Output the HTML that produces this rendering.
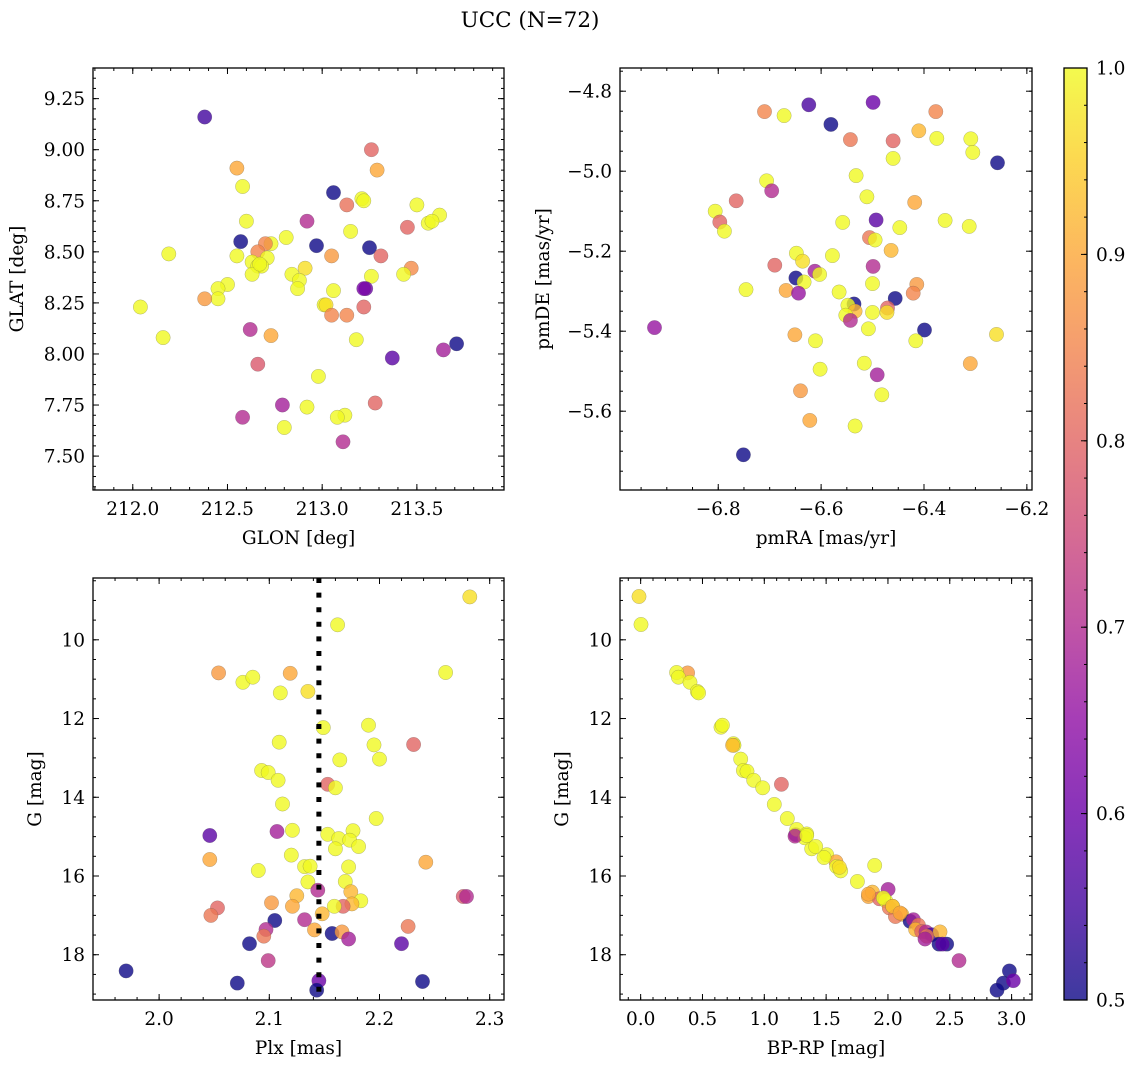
<!DOCTYPE html>
<html><head><meta charset="utf-8">
<style>
html,body{margin:0;padding:0;background:#fff;}
svg{display:block;font-family:"DejaVu Serif","Liberation Serif",serif;}
</style></head>
<body>
<svg id="fig" width="1136" height="1067" viewBox="0 0 1136 1067" xmlns="http://www.w3.org/2000/svg">
<defs>
<linearGradient id="plasma" x1="0" y1="1" x2="0" y2="0">
<stop offset="0" stop-color="#0d0887"/><stop offset="0.1" stop-color="#41049d"/><stop offset="0.2" stop-color="#6a00a8"/><stop offset="0.3" stop-color="#8f0da4"/><stop offset="0.4" stop-color="#b12a90"/><stop offset="0.5" stop-color="#cc4778"/><stop offset="0.6" stop-color="#e16462"/><stop offset="0.7" stop-color="#f2844b"/><stop offset="0.8" stop-color="#fca636"/><stop offset="0.9" stop-color="#fcce25"/><stop offset="1" stop-color="#f0f921"/>
</linearGradient>
</defs>
<text x="530" y="27" font-size="21.5" text-anchor="middle">UCC (N=72)</text>
</svg>
<script>
// ---- Panel 1: GLON / GLAT ----
const glon = [212.38,213.26,213.29,212.55,212.58,213.06,213.13,213.21,213.22,213.50,213.62,213.56,213.58,213.45,212.92,212.60,213.15,212.57,212.97,213.25,213.31,213.05,212.81,212.73,212.70,212.66,212.71,212.55,212.63,212.66,212.68,212.63,212.91,212.84,212.88,212.87,213.26,213.23,213.22,213.47,213.43,213.06,213.01,213.02,213.05,213.13,213.22,212.50,212.45,212.45,212.38,212.19,212.04,212.16,212.62,212.73,213.18,213.71,213.64,213.37,212.66,212.98,213.28,212.79,212.92,213.12,213.08,212.58,212.80,213.11,212.67];
const glat = [9.16,9.00,8.90,8.91,8.82,8.79,8.73,8.76,8.75,8.73,8.68,8.64,8.65,8.62,8.65,8.65,8.60,8.55,8.53,8.52,8.48,8.48,8.57,8.54,8.54,8.50,8.47,8.48,8.45,8.43,8.43,8.39,8.42,8.39,8.36,8.32,8.38,8.32,8.32,8.42,8.39,8.31,8.24,8.24,8.19,8.19,8.23,8.34,8.32,8.27,8.27,8.49,8.23,8.08,8.12,8.09,8.07,8.05,8.02,7.98,7.95,7.89,7.76,7.75,7.74,7.70,7.69,7.69,7.64,7.57,8.44];
const probA = [0.55,0.8,0.9,0.9,1,0.5,0.82,1,1,1,1,1,1,0.8,0.7,1,1,0.5,0.5,0.5,0.8,0.88,1,1,0.85,0.85,1,1,1,1,1,1,0.97,1,1,1,1,0.6,0.62,0.86,1,1,1,0.97,0.85,0.85,0.8,1,1,1,0.88,1,1,1,0.7,0.9,1,0.5,0.68,0.58,0.78,1,0.8,0.68,1,1,1,0.7,1,0.7,1];
// ---- Panel 2: pmRA / pmDE ----
const pmra = [-6.924,-6.751,-6.710,-6.672,-6.624,-6.581,-6.499,-6.377,-6.543,-6.460,-6.410,-6.375,-6.309,-6.305,-6.257,-6.460,-6.532,-6.706,-6.696,-6.511,-6.765,-6.418,-6.806,-6.797,-6.788,-6.493,-6.558,-6.447,-6.359,-6.312,-6.506,-6.495,-6.464,-6.578,-6.648,-6.636,-6.690,-6.499,-6.612,-6.603,-6.649,-6.633,-6.500,-6.746,-6.668,-6.644,-6.565,-6.414,-6.421,-6.456,-6.536,-6.548,-6.534,-6.552,-6.543,-6.471,-6.472,-6.500,-6.508,-6.399,-6.416,-6.259,-6.651,-6.611,-6.516,-6.310,-6.602,-6.491,-6.640,-6.482,-6.622,-6.534];
const pmde = [-5.391,-5.709,-4.851,-4.861,-4.834,-4.883,-4.828,-4.851,-4.921,-4.924,-4.899,-4.918,-4.919,-4.953,-4.979,-4.968,-5.011,-5.024,-5.049,-5.064,-5.074,-5.078,-5.100,-5.127,-5.150,-5.122,-5.128,-5.141,-5.123,-5.138,-5.166,-5.172,-5.198,-5.211,-5.205,-5.225,-5.235,-5.238,-5.250,-5.258,-5.267,-5.277,-5.281,-5.296,-5.298,-5.305,-5.302,-5.283,-5.305,-5.318,-5.332,-5.335,-5.350,-5.360,-5.373,-5.342,-5.353,-5.353,-5.394,-5.397,-5.424,-5.408,-5.409,-5.424,-5.480,-5.481,-5.495,-5.509,-5.549,-5.559,-5.623,-5.637];
const probB = [0.66,0.5,0.85,1,0.56,0.5,0.6,0.85,0.83,0.8,0.92,1,1,1,0.5,1,1,1,0.7,1,0.8,0.9,1,0.8,1,0.58,1,1,1,1,0.83,1,0.92,1,1,0.97,0.8,0.7,0.68,1,0.5,1,1,1,0.9,0.66,1,0.88,0.85,0.5,0.5,1,0.92,1,0.7,0.8,0.97,1,1,0.5,1,0.97,0.9,1,1,0.9,1,0.68,0.88,1,0.9,1];
// ---- Panel 3: Plx / G ----
const plx = [2.282,2.162,2.054,2.076,2.085,2.119,2.110,2.135,2.260,2.149,2.190,2.109,2.195,2.231,2.200,2.164,2.093,2.099,2.108,2.153,2.160,2.112,2.197,2.046,2.107,2.121,2.153,2.163,2.176,2.173,2.181,2.160,2.120,2.046,2.242,2.132,2.137,2.172,2.090,2.135,2.169,2.144,2.174,2.125,2.276,2.279,2.183,2.102,2.175,2.167,2.159,2.121,2.053,2.047,2.148,2.105,2.132,2.226,2.097,2.095,2.141,2.157,2.166,2.172,2.082,2.220,2.099,1.970,2.071,2.145,2.239,2.143];
const gmagC = [8.91,9.62,10.84,11.08,10.95,10.85,11.35,11.31,10.83,12.23,12.17,12.60,12.67,12.66,13.03,13.05,13.32,13.37,13.57,13.67,13.76,14.17,14.54,14.97,14.87,14.84,14.94,15.05,14.85,15.09,15.25,15.31,15.47,15.58,15.65,15.76,15.75,15.77,15.86,16.15,16.14,16.36,16.40,16.50,16.52,16.52,16.63,16.68,16.71,16.77,16.77,16.77,16.81,17.00,16.96,17.13,17.11,17.28,17.36,17.53,17.37,17.46,17.42,17.60,17.72,17.72,18.15,18.41,18.72,18.66,18.68,18.90];
const probC = [0.97,1,0.88,1,1,0.9,1,0.97,1,1,1,1,1,0.8,1,1,1,1,1,0.8,1,1,1,0.58,0.68,1,1,1,1,1,1,1,1,0.9,0.9,1,1,1,1,1,1,0.7,0.92,0.92,0.78,0.7,1,0.88,0.92,0.8,1,0.9,0.8,0.83,0.92,0.5,0.7,0.83,0.7,0.83,0.9,0.5,0.88,0.68,0.5,0.58,0.72,0.5,0.5,0.6,0.5,0.5];
const plxMedian = [2.145];
// ---- Panel 4: BP-RP / G ----
const bprp = [-0.013,0.003,0.380,0.291,0.305,0.399,0.458,0.469,0.650,0.661,0.750,0.755,0.809,0.831,0.860,0.914,0.987,1.138,1.081,1.186,1.254,1.262,1.343,1.327,1.383,1.416,1.505,1.580,1.585,1.618,1.893,1.753,1.842,1.874,2.001,1.931,1.982,2.011,2.038,2.111,2.060,2.179,2.206,2.246,2.224,2.273,2.308,2.354,2.421,2.313,2.300,2.413,2.475,2.440,2.575,2.982,2.934,3.014,2.882,0.744,1.483,1.607,1.842,1.963,2.038,2.098,1.248,1.343];
const gmagD = [8.90,9.61,10.84,10.83,10.95,11.08,11.31,11.35,12.22,12.17,12.64,12.68,13.03,13.32,13.34,13.57,13.76,13.67,14.18,14.54,14.95,14.82,14.93,15.03,15.31,15.25,15.46,15.64,15.76,15.87,15.73,16.14,16.52,16.41,16.34,16.58,16.63,16.81,16.77,16.97,17.03,17.15,17.11,17.25,17.36,17.41,17.42,17.49,17.42,17.53,17.60,17.73,17.73,17.73,18.15,18.41,18.72,18.66,18.90,12.68,15.53,15.78,16.46,16.56,16.77,16.94,14.99,14.97];
const probD = [0.97,1,0.88,1,1,1,1,1,1,1,1,1,1,1,1,1,1,0.8,1,1,0.58,1,1,1,1,1,1,0.9,1,1,1,1,0.9,0.92,0.68,0.8,1,0.83,1,0.92,0.83,0.5,0.68,0.83,0.92,0.8,0.7,0.55,0.92,0.83,0.68,0.5,0.5,0.58,0.7,0.5,0.5,0.6,0.5,0.92,1,0.97,0.9,1,0.92,0.9,0.7,1];
// ---- tick labels ----
const ticks1x = [212.0,212.5,213.0,213.5];
const ticks1y = [7.50,7.75,8.00,8.25,8.50,8.75,9.00,9.25];
const ticks2x = [-6.8,-6.6,-6.4,-6.2];
const ticks2y = [-5.6,-5.4,-5.2,-5.0,-4.8];
const ticks3x = [2.0,2.1,2.2,2.3];
const ticksG = [10,12,14,16,18];
const ticks4x = [0.0,0.5,1.0,1.5,2.0,2.5,3.0];
const ticksCb = [0.5,0.6,0.7,0.8,0.9,1.0];

const NS="http://www.w3.org/2000/svg";
const fig=document.getElementById('fig');
const stops=[[13,8,135],[65,4,157],[106,0,168],[143,13,164],[177,42,144],[204,71,120],[225,100,98],[242,132,75],[252,166,54],[252,206,37],[240,249,33]];
function plasma(p){let t=Math.max(0,Math.min(1,(p-0.5)/0.5))*10;let i=Math.min(9,Math.floor(t));let f=t-i;const a=stops[i],b=stops[i+1];return 'rgb('+a.map((v,k)=>Math.round(v+(b[k]-v)*f)).join(',')+')';}
function mk(tag,attrs,parent){const e=document.createElementNS(NS,tag);for(const k in attrs)e.setAttribute(k,attrs[k]);(parent||fig).appendChild(e);return e;}
function fmt(v,d){return v.toFixed(d).replace('-','\u2212');}
const FS=18.5;

function panel(name,box,xd,yd,xinv,yinv,xt,yt,xminor,yminor,xdec,ydec,xlab,ylab,ylabx,xs,ys,ps){
  const [L,T,R,B]=box;
  const sx=v=>L+(v-xd[0])/(xd[1]-xd[0])*(R-L);
  const sy=v=>yinv? T+(v-yd[0])/(yd[1]-yd[0])*(B-T) : B-(v-yd[0])/(yd[1]-yd[0])*(B-T);
  const g=mk('g',{});
  
  
  const pts=mk('g',{},g);
  
  
  for(let i=0;i<xs.length;i++){
    const c=mk('circle',{cx:sx(xs[i]).toFixed(1),cy:sy(ys[i]).toFixed(1),r:7.2,fill:plasma(ps[i]),'fill-opacity':0.8,stroke:'#555','stroke-width':0.35,'stroke-opacity':0.6},pts);
    
    
  }
  const tk=mk('g',{stroke:'#000','stroke-width':1},g);
  
  
  let s=Math.ceil(xd[0]/xminor-1e-6);
  for(let v=s*xminor;v<=xd[1]+1e-9;v+=xminor){const x=sx(v);mk('line',{x1:x,x2:x,y1:B,y2:B-3},tk);mk('line',{x1:x,x2:x,y1:T,y2:T+3},tk);}
  s=Math.ceil(yd[0]/yminor-1e-6);
  for(let v=s*yminor;v<=yd[1]+1e-9;v+=yminor){const y=sy(v);mk('line',{x1:L,x2:L+3,y1:y,y2:y},tk);mk('line',{x1:R,x2:R-3,y1:y,y2:y},tk);}
  xt.forEach(v=>{const x=sx(v);mk('line',{x1:x,x2:x,y1:B,y2:B-6},tk);mk('line',{x1:x,x2:x,y1:T,y2:T+6},tk);
    const t=mk('text',{x:x,y:B+25,'font-size':FS,'text-anchor':'middle',stroke:'none'},g);t.textContent=fmt(v,xdec);
    
    });
  yt.forEach(v=>{const y=sy(v);mk('line',{x1:L,x2:L+6,y1:y,y2:y},tk);mk('line',{x1:R,x2:R-6,y1:y,y2:y},tk);
    const t=mk('text',{x:L-8,y:y+6.5,'font-size':FS,'text-anchor':'end'},g);t.textContent=fmt(v,ydec);
    
    });
  const fr=mk('rect',{x:L,y:T,width:R-L,height:B-T,fill:'none',stroke:'#000','stroke-width':1.3},g);
  
  
  const xl=mk('text',{x:(L+R)/2,y:B+54,'font-size':FS,'text-anchor':'middle'},g);xl.textContent=xlab;
  
  
  const yl=mk('text',{x:ylabx,y:(T+B)/2,'font-size':FS,'text-anchor':'middle',transform:'rotate(-90 '+ylabx+' '+(T+B)/2+')'},g);yl.textContent=ylab;
  
  
  return {sx,sy,g};
}

panel('glon-glat',[93,68,504,490],[211.79,213.96],[7.334,9.40],false,false,ticks1x,ticks1y,0.1,0.05,1,2,'GLON [deg]','GLAT [deg]',23,glon,glat,probA);
panel('pm',[620,68,1032,490],[-6.991,-6.190],[-5.797,-4.742],false,false,ticks2x,ticks2y,0.05,0.05,1,1,'pmRA [mas/yr]','pmDE [mas/yr]',549,pmra,pmde,probB);
const p3=panel('plx-g',[93,578,504,1000],[1.940,2.313],[8.43,19.15],false,true,ticks3x,ticksG,0.02,0.5,1,0,'Plx [mas]','G [mag]',41,plx,gmagC,probC);
panel('cmd',[620,578,1032,1000],[-0.167,3.165],[8.43,19.15],false,true,ticks4x,ticksG,0.1,0.5,1,0,'BP-RP [mag]','G [mag]',568,bprp,gmagD,probD);

plxMedian.forEach(v=>{
  const x=p3.sx(v);
  const ln=mk('line',{x1:x,x2:x,y1:578,y2:1000,stroke:'#000','stroke-width':5,'stroke-dasharray':'5 9.6'});
  
  
});

const cb=mk('g',{});


const cbT=68,cbB=1000,cbL=1064,cbR=1087;
const cbr=mk('rect',{x:cbL,y:cbT,width:cbR-cbL,height:cbB-cbT,fill:'url(#plasma)','fill-opacity':0.8},cb);


const cy=v=>cbB-(v-0.5)/0.5*(cbB-cbT);
for(let k=0;k<=25;k++){const v=0.5+k*0.02;const y=cy(v);mk('line',{x1:cbR,x2:cbR-3,y1:y,y2:y,stroke:'#000','stroke-width':1},cb);}
ticksCb.forEach(v=>{const y=cy(v);mk('line',{x1:cbR,x2:cbR-6,y1:y,y2:y,stroke:'#000','stroke-width':1},cb);
  const t=mk('text',{x:cbR+9,y:y+6.5,'font-size':FS},cb);t.textContent=v.toFixed(1);
  
  });
mk('rect',{x:cbL,y:cbT,width:cbR-cbL,height:cbB-cbT,fill:'none',stroke:'#000','stroke-width':1.3},cb);
</script>
</body></html>
